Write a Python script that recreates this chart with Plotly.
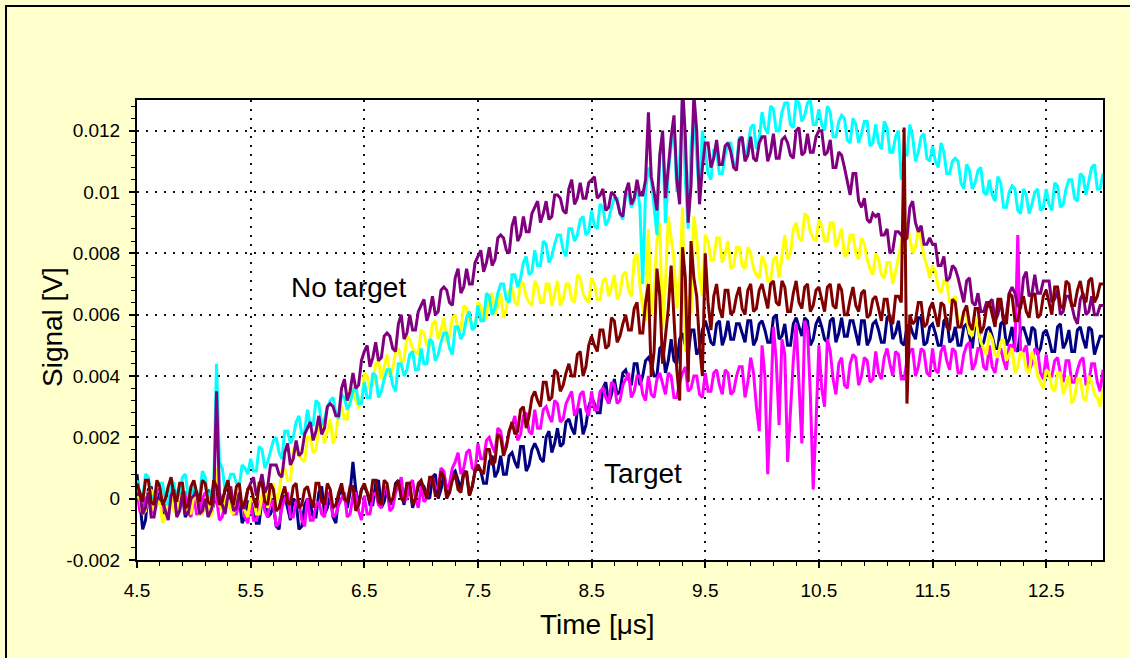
import plotly.graph_objects as go

# time grid (microseconds), 0.025 us sampling from 4.5 to 13.0
t_start = 4.5
t_step = 0.025
n_pts = 341
time_us = [round(t_start + t_step * i, 4) for i in range(n_pts)]

# signals in units of 0.1 mV (1e-4 V); one row = 0.5 us
navy_raw = [
    8, 0, -10, -7, 3, 4, -4, -2, 2, -4, -5, 2, 4, 0, -3, 3, 1, -6, -4, 1,
    3, 1, -4, -5, 1, 3, -5, -2, 2, -3, -3, 3, 3, -1, -5, 2, 0, -8, -6, -1,
    -1, -3, -8, -8, 0, 2, -6, -5, -2, -9, -10, -1, 1, -3, -7, 0, -1, -10, -9, -2,
    0, -2, -6, -6, 2, 4, -5, -3, 1, -6, -8, 1, 3, 0, -3, 2, 12, 3, -2, 3,
    4, 2, -2, -2, 5, 6, -3, -1, 3, -2, -1, 5, 6, 2, -2, 5, 4, -3, 0, 4,
    5, 4, 1, 0, 7, 8, 0, 3, 8, 2, 2, 8, 9, 6, 3, 9, 8, 1, 4, 9,
    11, 9, 5, 5, 12, 14, 7, 9, 14, 8, 8, 14, 15, 12, 10, 17, 17, 9, 11, 16,
    18, 16, 13, 12, 20, 22, 15, 18, 23, 17, 18, 25, 26, 23, 21, 29, 29, 21, 24, 30,
    33, 31, 28, 28, 36, 38, 31, 34, 39, 34, 35, 41, 42, 39, 37, 44, 44, 37, 40, 45,
    46, 44, 40, 40, 49, 50, 41, 45, 52, 45, 44, 52, 54, 50, 47, 55, 55, 47, 49, 55,
    58, 55, 51, 50, 57, 58, 50, 53, 58, 52, 52, 57, 57, 54, 51, 58, 58, 50, 52, 57,
    58, 55, 51, 51, 59, 60, 52, 53, 57, 50, 50, 57, 59, 56, 53, 59, 58, 50, 52, 57,
    59, 56, 52, 51, 58, 59, 51, 54, 59, 53, 53, 58, 58, 54, 50, 58, 58, 50, 52, 57,
    58, 55, 51, 51, 59, 60, 52, 54, 58, 51, 50, 56, 57, 54, 52, 59, 59, 50, 51, 56,
    57, 54, 50, 50, 58, 59, 51, 52, 56, 50, 50, 56, 57, 53, 49, 57, 57, 49, 51, 55,
    56, 53, 49, 49, 57, 58, 50, 52, 56, 49, 48, 55, 56, 53, 50, 56, 55, 47, 49, 54,
    55, 52, 48, 48, 56, 57, 49, 51, 55, 48, 48, 55, 56, 52, 49, 56, 55, 47, 50, 53,
    53,
]
magenta_raw = [
    2, -4, -4, 0, 1, -3, -5, 3, 3, -4, -3, -1, 0, 2, -5, -4, 2, 2, -4, -6,
    1, -5, -5, 0, 2, -2, -4, 2, 0, -7, -6, -1, 1, 3, -5, -5, -1, -1, -6, -8,
    -1, -7, -7, -2, 0, -4, -6, 0, -2, -9, -8, -3, 0, 2, -6, -6, -1, -1, -7, -9,
    0, -7, -7, -2, -1, -5, -6, 2, 1, -6, -5, -2, 0, 2, -6, -5, 1, 2, -4, -7,
    1, -5, -5, 1, 2, -2, -3, 4, 3, -4, -3, 2, 4, 7, -1, 0, 5, 6, 0, -3,
    4, -1, 0, 6, 7, 4, 3, 10, 9, 3, 5, 10, 12, 15, 8, 10, 15, 16, 10, 9,
    18, 13, 13, 19, 20, 17, 15, 23, 22, 16, 17, 22, 24, 27, 19, 21, 27, 28, 22, 21,
    29, 23, 23, 29, 30, 27, 25, 32, 31, 25, 26, 31, 33, 35, 27, 29, 34, 35, 29, 27,
    35, 29, 29, 35, 36, 33, 31, 38, 37, 31, 32, 37, 39, 41, 33, 35, 40, 40, 34, 32,
    40, 34, 33, 39, 41, 37, 34, 41, 40, 33, 33, 38, 41, 43, 35, 36, 40, 40, 34, 33,
    41, 35, 35, 41, 42, 37, 34, 42, 41, 34, 35, 40, 43, 43, 33, 38, 46, 41, 30, 22,
    50, 40, 8, 30, 56, 45, 24, 52, 47, 12, 30, 45, 57, 38, 18, 58, 55, 34, 3, 25,
    50, 36, 30, 52, 48, 39, 34, 44, 46, 37, 36, 44, 47, 46, 37, 40, 46, 45, 38, 39,
    48, 41, 39, 46, 49, 44, 40, 48, 47, 39, 39, 45, 48, 49, 40, 43, 49, 48, 41, 40,
    49, 42, 41, 48, 50, 45, 42, 49, 48, 41, 41, 47, 50, 51, 42, 44, 49, 49, 43, 42,
    50, 43, 41, 47, 49, 45, 42, 50, 50, 48, 86, 47, 48, 50, 42, 44, 49, 48, 41, 39,
    47, 40, 40, 45, 46, 41, 38, 45, 45, 38, 38, 42, 45, 46, 37, 38, 44, 44, 38, 35,
    42,
]
yellow_raw = [
    1, 0, -5, -4, 2, 3, -4, -2, 0, -8, -6, 0, 1, -4, -5, 2, 0, -3, -4, -5,
    1, 0, -5, -5, 0, 1, -6, -1, 10, -2, -4, 1, 0, -4, -5, 3, 1, -2, -4, -6,
    0, 0, -5, -5, 1, 3, -3, 1, 5, -1, 2, 9, 10, 6, 6, 16, 17, 14, 13, 12,
    20, 20, 15, 16, 23, 24, 18, 22, 26, 18, 21, 28, 30, 26, 26, 36, 36, 32, 30, 31,
    41, 40, 36, 37, 44, 45, 39, 43, 47, 40, 42, 48, 49, 45, 45, 53, 52, 49, 48, 47,
    55, 54, 50, 50, 57, 58, 52, 55, 59, 51, 53, 59, 60, 55, 55, 63, 62, 58, 57, 56,
    64, 63, 58, 59, 66, 67, 60, 63, 67, 59, 62, 68, 69, 64, 63, 71, 70, 66, 64, 63,
    71, 69, 64, 64, 70, 70, 63, 67, 71, 63, 65, 70, 70, 65, 64, 73, 72, 67, 65, 64,
    72, 70, 65, 65, 71, 72, 66, 69, 73, 65, 67, 73, 74, 68, 66, 78, 80, 70, 62, 58,
    88, 60, 68, 84, 90, 55, 70, 92, 85, 78, 62, 70, 95, 48, 66, 60, 92, 85, 72, 66,
    86, 84, 78, 78, 85, 85, 77, 80, 84, 75, 76, 82, 82, 76, 75, 82, 80, 75, 73, 72,
    79, 77, 71, 71, 78, 79, 72, 79, 86, 78, 80, 88, 90, 85, 84, 93, 92, 87, 85, 84,
    91, 89, 84, 84, 90, 90, 82, 85, 88, 79, 80, 86, 86, 80, 78, 85, 83, 78, 75, 73,
    80, 78, 73, 72, 77, 77, 70, 74, 79, 84, 88, 90, 85, 80, 82, 88, 84, 79, 76, 72,
    76, 74, 69, 67, 71, 71, 64, 65, 66, 57, 58, 61, 59, 54, 53, 59, 55, 51, 49, 47,
    54, 52, 47, 46, 51, 52, 45, 47, 49, 41, 43, 48, 47, 42, 41, 48, 45, 40, 38, 36,
    42, 41, 36, 35, 41, 41, 34, 37, 40, 31, 33, 39, 39, 33, 32, 40, 38, 34, 33, 30,
    36,
]
cyan_raw = [
    6, 1, 0, 8, 7, 0, 1, 4, 5, 5, -1, -2, 6, 5, 0, 2, 7, 8, 1, 0,
    6, 1, 1, 9, 7, 0, 2, 4, 44, 12, 10, 3, 5, 8, 8, 5, 4, 11, 10, 8,
    13, 9, 9, 17, 16, 10, 12, 16, 19, 20, 15, 13, 22, 22, 18, 20, 25, 27, 21, 22,
    29, 24, 24, 32, 31, 24, 26, 30, 32, 33, 28, 26, 34, 33, 29, 31, 35, 37, 31, 31,
    38, 33, 33, 41, 40, 33, 35, 39, 42, 42, 37, 35, 44, 44, 40, 42, 47, 48, 42, 42,
    49, 44, 44, 52, 51, 45, 47, 51, 54, 54, 49, 47, 56, 56, 52, 54, 59, 61, 55, 56,
    63, 58, 58, 67, 66, 60, 62, 67, 70, 70, 65, 64, 73, 73, 69, 72, 77, 79, 73, 74,
    81, 76, 76, 84, 83, 77, 79, 83, 86, 86, 81, 79, 88, 88, 84, 86, 91, 92, 86, 87,
    94, 89, 88, 96, 95, 89, 91, 95, 98, 98, 93, 91, 100, 99, 95, 97, 102, 95, 70, 100,
    108, 104, 96, 86, 112, 118, 90, 106, 115, 122, 100, 110, 130, 104, 88, 115, 125, 110, 98, 120,
    112, 106, 104, 114, 113, 106, 106, 112, 116, 116, 109, 109, 118, 117, 111, 115, 121, 122, 114, 117,
    126, 121, 119, 128, 127, 120, 120, 126, 129, 129, 122, 121, 130, 129, 123, 125, 129, 130, 122, 122,
    127, 122, 120, 128, 126, 118, 118, 123, 125, 124, 117, 116, 124, 122, 116, 119, 123, 123, 115, 116,
    122, 116, 114, 123, 121, 113, 113, 118, 120, 104, 112, 112, 122, 118, 110, 113, 118, 119, 111, 110,
    115, 110, 108, 116, 113, 106, 106, 110, 111, 110, 103, 101, 109, 107, 101, 103, 107, 108, 100, 99,
    104, 99, 97, 105, 103, 95, 95, 100, 102, 101, 94, 93, 101, 99, 93, 96, 100, 101, 94, 95,
    101, 96, 94, 103, 102, 95, 96, 101, 104, 104, 98, 97, 106, 105, 99, 103, 108, 109, 101, 101,
    106,
]
purple_raw = [
    1, 2, -5, -3, 2, -6, -6, 0, 0, -1, -4, -7, 1, 3, -6, -4, 2, -5, -5, 0,
    1, 2, -5, -4, 0, -6, -4, -1, 35, 2, -2, -5, 1, 4, -4, -3, 2, -3, -3, 3,
    5, 7, 1, 4, 8, 2, 4, 11, 11, 11, 8, 7, 15, 18, 11, 13, 19, 14, 15, 21,
    23, 25, 19, 22, 27, 21, 23, 30, 31, 30, 27, 27, 36, 39, 32, 35, 41, 36, 37, 45,
    48, 50, 43, 46, 51, 45, 46, 53, 54, 53, 49, 48, 57, 60, 52, 54, 60, 55, 55, 61,
    63, 65, 58, 61, 66, 60, 61, 68, 69, 68, 64, 63, 72, 75, 67, 69, 75, 70, 70, 77,
    79, 81, 74, 77, 82, 76, 78, 85, 86, 85, 81, 80, 89, 92, 84, 86, 92, 87, 87, 93,
    95, 97, 90, 93, 97, 91, 92, 99, 99, 98, 94, 93, 101, 104, 96, 98, 103, 98, 98, 103,
    104, 105, 98, 99, 101, 94, 95, 100, 99, 97, 93, 92, 100, 103, 96, 98, 104, 99, 99, 104,
    126, 105, 100, 94, 112, 120, 98, 108, 118, 125, 104, 96, 135, 118, 90, 102, 132, 120, 96, 108,
    116, 116, 108, 111, 117, 109, 109, 115, 116, 113, 108, 107, 117, 118, 110, 112, 118, 111, 110, 116,
    118, 118, 110, 113, 119, 111, 111, 117, 118, 116, 112, 111, 120, 121, 112, 113, 119, 113, 113, 118,
    120, 120, 112, 113, 117, 108, 108, 113, 112, 108, 103, 99, 106, 106, 97, 95, 98, 91, 90, 93,
    92, 93, 86, 86, 88, 80, 81, 87, 87, 86, 84, 85, 95, 97, 90, 87, 89, 83, 83, 85,
    83, 83, 76, 76, 79, 71, 72, 76, 75, 72, 68, 64, 71, 72, 64, 63, 67, 61, 61, 64,
    64, 65, 58, 60, 65, 58, 60, 67, 69, 67, 63, 62, 72, 74, 66, 67, 73, 67, 67, 71,
    71, 71, 64, 65, 68, 60, 61, 66, 66, 63, 59, 57, 65, 67, 60, 61, 66, 60, 60, 63,
    63,
]
brown_raw = [
    5, 2, -1, 6, 6, -1, -2, 6, 4, -2, 0, 4, 7, 1, -1, 5, 5, -3, -2, 4,
    6, 2, -1, 6, 5, -1, -2, 6, 4, -2, -1, 3, 6, 0, -2, 4, 5, -3, -1, 3,
    4, 0, -3, 5, 5, -1, -2, 5, 3, -4, -3, 1, 4, -1, -2, 4, 5, -3, -2, 3,
    4, 0, -3, 5, 5, -1, -2, 5, 3, -3, -2, 2, 5, 0, -1, 4, 4, -4, -2, 3,
    5, 2, -1, 6, 6, -1, -2, 6, 5, -1, 0, 4, 6, 0, -1, 5, 5, -2, 0, 5,
    6, 3, 0, 7, 7, 1, 1, 9, 7, 0, 2, 6, 8, 3, 2, 8, 9, 1, 4, 9,
    11, 9, 8, 16, 16, 11, 12, 21, 20, 14, 17, 22, 25, 21, 22, 29, 30, 23, 27, 33,
    35, 32, 30, 38, 38, 32, 33, 42, 41, 35, 37, 41, 44, 40, 40, 47, 48, 40, 43, 50,
    53, 50, 48, 55, 55, 49, 50, 59, 58, 51, 53, 57, 60, 55, 55, 62, 64, 54, 54, 64,
    70, 40, 48, 75, 66, 44, 52, 62, 76, 58, 42, 32, 82, 72, 38, 84, 72, 66, 50, 40,
    80, 64, 55, 66, 70, 62, 59, 68, 68, 60, 61, 66, 69, 62, 60, 68, 70, 61, 62, 68,
    70, 66, 62, 70, 71, 64, 63, 71, 69, 61, 61, 67, 71, 64, 62, 69, 70, 61, 63, 68,
    69, 65, 61, 69, 70, 63, 62, 70, 68, 60, 60, 65, 69, 63, 61, 67, 68, 59, 60, 65,
    66, 62, 58, 65, 65, 58, 57, 66, 66, 64, 121, 31, 60, 57, 58, 64, 64, 56, 57, 62,
    64, 60, 56, 64, 63, 56, 55, 65, 64, 56, 56, 61, 63, 57, 55, 62, 62, 54, 56, 62,
    64, 60, 56, 65, 65, 58, 57, 67, 66, 58, 58, 63, 66, 61, 59, 66, 67, 59, 60, 66,
    68, 64, 60, 69, 69, 63, 62, 71, 70, 63, 63, 68, 71, 66, 64, 71, 72, 64, 66, 70,
    70,
]

UNIT = 1e-4  # raw values are in 0.1 mV

series = [
    ("navy", navy_raw, "#000080"),
    ("magenta", magenta_raw, "#FF00FF"),
    ("yellow", yellow_raw, "#FFFF00"),
    ("cyan", cyan_raw, "#00FFFF"),
    ("purple", purple_raw, "#800080"),
    ("brown", brown_raw, "#800000"),
]

y_tick_vals = [-0.002, 0, 0.002, 0.004, 0.006, 0.008, 0.01, 0.012]
y_tick_text = ["-0.002", "0", "0.002", "0.004", "0.006", "0.008", "0.01", "0.012"]
x_tick_vals = [4.5, 5.5, 6.5, 7.5, 8.5, 9.5, 10.5, 11.5, 12.5]
x_tick_text = ["4.5", "5.5", "6.5", "7.5", "8.5", "9.5", "10.5", "11.5", "12.5"]

fig = go.Figure()
for name, raw, color in series:
    n = min(len(raw), len(time_us))
    fig.add_trace(go.Scatter(
        x=time_us[:n], y=[v * UNIT for v in raw[:n]], mode="lines", name=name,
        line=dict(color=color, width=3), showlegend=False, hoverinfo="skip",
    ))

FONT = "Liberation Sans, Arial, sans-serif"
grid_style = dict(showgrid=True, gridcolor="#111111", gridwidth=2, griddash="2px,7px")

fig.update_layout(
    width=1130, height=658,
    margin=dict(l=137, r=27, t=100, b=98),
    paper_bgcolor="#FFFFCC", plot_bgcolor="#FFFFFF",
    font=dict(family=FONT, color="#000000"),
    xaxis=dict(
        range=[4.5, 13.0], tickmode="array", tickvals=x_tick_vals, ticktext=x_tick_text,
        ticks="outside", ticklen=6, tickwidth=1.5, tickcolor="#000000",
        showline=True, linecolor="#000000", linewidth=2, mirror=True,
        zeroline=False, tickfont=dict(size=19), ticklabelstandoff=6,
        minor=dict(tickmode="linear", tick0=4.5, dtick=0.2, ticks="outside",
                   ticklen=4, tickwidth=1.2, tickcolor="#000000", showgrid=False),
        **grid_style,
    ),
    yaxis=dict(
        range=[-0.002, 0.013], tickmode="array", tickvals=y_tick_vals, ticktext=y_tick_text,
        ticks="outside", ticklen=6, tickwidth=1.5, tickcolor="#000000",
        showline=True, linecolor="#000000", linewidth=2, mirror=True,
        zeroline=False, tickfont=dict(size=19), ticklabelstandoff=5,
        minor=dict(tickmode="linear", tick0=0, dtick=0.0004, ticks="outside",
                   ticklen=4, tickwidth=1.2, tickcolor="#000000", showgrid=False),
        **grid_style,
    ),
    shapes=[dict(type="rect", xref="paper", yref="paper",
                 x0=-0.1356, x1=1.2, y0=-0.4, y1=1.2043,
                 line=dict(color="#000000", width=2), fillcolor="rgba(0,0,0,0)", layer="below")],
    annotations=[
        dict(text="No target", x=6.36, y=0.0069, xref="x", yref="y", showarrow=False,
             xanchor="center", yanchor="middle", font=dict(size=28, family=FONT)),
        dict(text="Target", x=8.95, y=0.00082, xref="x", yref="y", showarrow=False,
             xanchor="center", yanchor="middle", font=dict(size=28, family=FONT)),
        dict(text="Time [\u03bcs]", x=0.477, y=-0.141, xref="paper", yref="paper",
             showarrow=False, xanchor="center", yanchor="middle",
             font=dict(size=28, family=FONT)),
        dict(text="Signal [V]", x=-0.088, y=0.5065, xref="paper", yref="paper",
             showarrow=False, textangle=-90, xanchor="center", yanchor="middle",
             font=dict(size=28, family=FONT)),
    ],
)

fig.write_html("out.html")
